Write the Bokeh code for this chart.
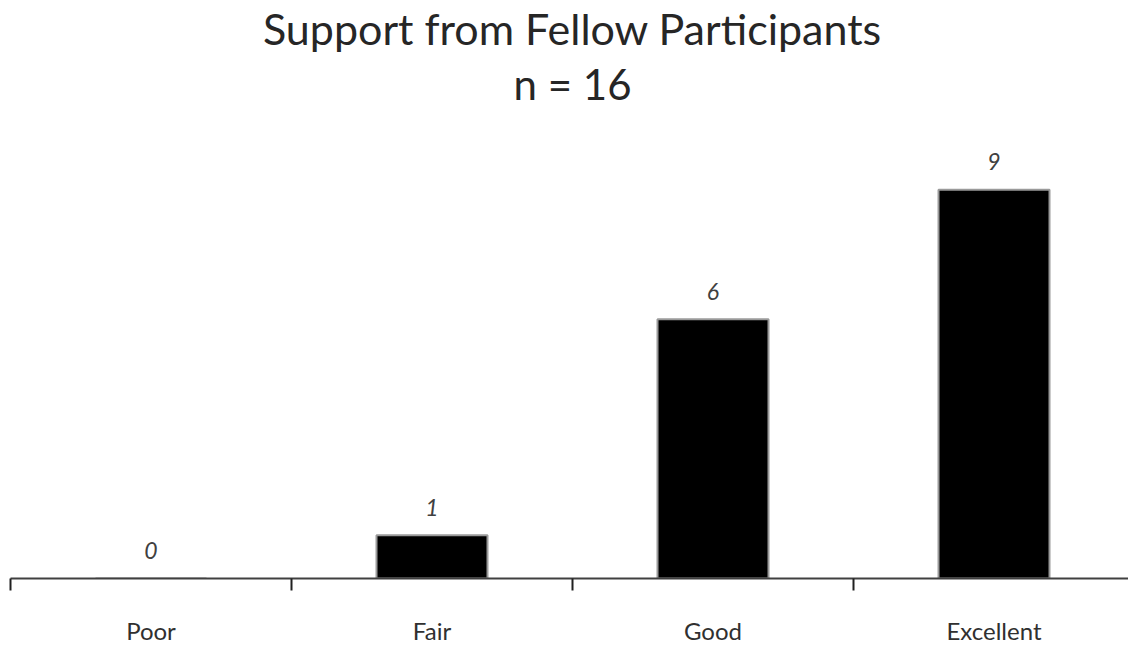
from bokeh.plotting import figure
from bokeh.models import Range1d, FixedTicker, Label, ColumnDataSource
from bokeh.core.properties import value
from bokeh.embed import file_html
from bokeh.resources import INLINE

categories = ["Poor", "Fair", "Good", "Excellent"]
counts = [0, 1, 6, 9]
title_line1 = "Support from Fellow Participants"
title_line2 = "n = 16"

FONT = "Lato"
xs = [i + 0.5 for i in range(len(categories))]

p = figure(width=1128, height=647, output_backend="svg", toolbar_location=None,
           x_range=Range1d(0, 3.9786), y_range=Range1d(0, 13.38),
           min_border_left=10, min_border_right=0, min_border_top=0, min_border_bottom=69)
p.outline_line_color = None
p.xgrid.visible = False
p.ygrid.visible = False
p.yaxis.visible = False
p.background_fill_color = "white"
p.border_fill_color = "white"

src = ColumnDataSource(dict(x=xs, top=counts, label=[str(c) for c in counts]))
p.vbar(x="x", top="top", width=0.395, bottom=0, source=src,
       fill_color="black", line_color="#9a9a9a", line_width=2)
p.text(x="x", y="top", text="label", source=src, y_offset=-28,
       text_align="center", text_baseline="middle",
       text_font=value(FONT), text_font_style="italic", text_font_size="23px",
       text_color="#404040")

ax = p.xaxis[0]
ax.ticker = FixedTicker(ticks=xs, minor_ticks=list(range(len(categories) + 1)))
ax.major_label_overrides = {x: c for x, c in zip(xs, categories)}
ax.major_tick_line_color = None
ax.major_tick_out = 0
ax.major_tick_in = 0
ax.minor_tick_line_color = "#202020"
ax.minor_tick_line_width = 2
ax.minor_tick_out = 12
ax.minor_tick_in = 0
ax.axis_line_color = "#404040"
ax.axis_line_width = 2
ax.major_label_text_font = FONT
ax.major_label_text_font_size = "24px"
ax.major_label_text_color = "#303030"
ax.major_label_standoff = 25

p.add_layout(Label(x=2.0, y=12.74, text=title_line1, text_align="center",
                   text_baseline="middle", text_font=FONT, text_font_size="43px",
                   text_color="#262626"))
p.add_layout(Label(x=2.0, y=11.45, text=title_line2, text_align="center",
                   text_baseline="middle", text_font=FONT, text_font_size="42px",
                   text_color="#262626"))

open("out.html", "w").write(file_html(p, INLINE))
